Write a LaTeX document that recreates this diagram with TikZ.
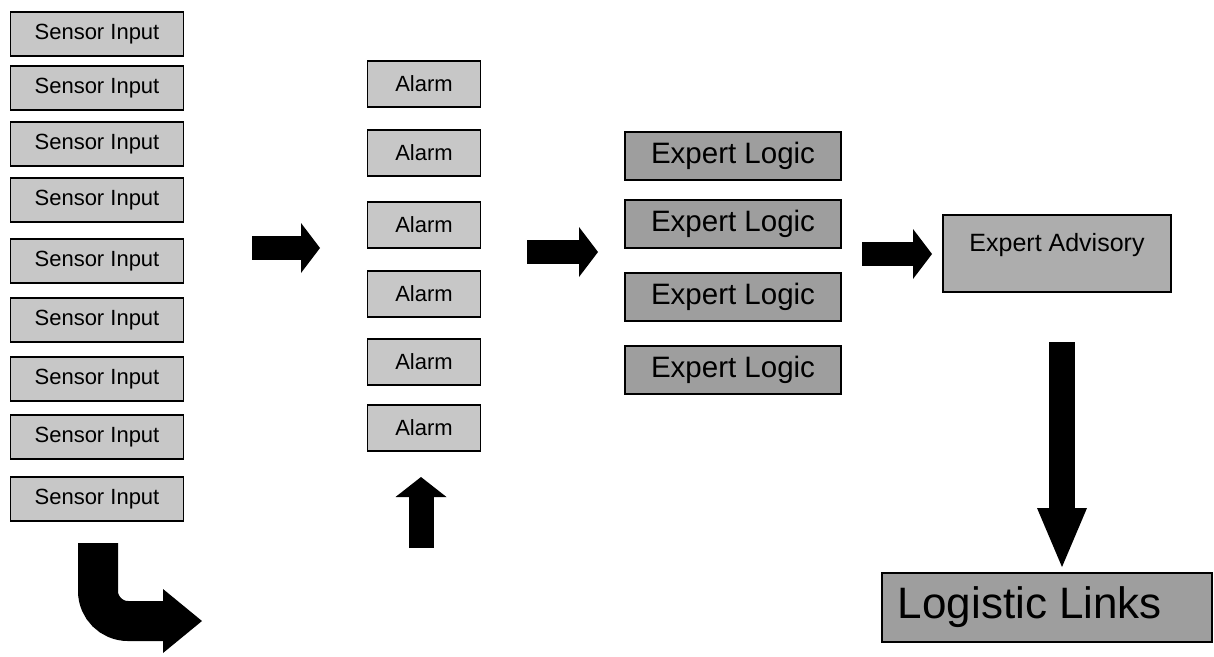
\documentclass[tikz,border=0pt]{standalone}
\usepackage{fontspec}
\setmainfont{Liberation Sans}
\usetikzlibrary{arrows.meta}

\begin{document}
\begin{tikzpicture}[x=1pt,y=-1pt,
    box/.style={draw,line width=1.6pt,inner sep=0pt,fill=black!22},
    sensorbox/.style={box,minimum width=173pt,minimum height=44pt,font=\fontsize{22}{24}\selectfont},
    alarmbox/.style={box,minimum width=113pt,minimum height=46pt,font=\fontsize{22}{24}\selectfont},
    logicbox/.style={box,fill=black!38,minimum width=216pt,minimum height=48pt,font=\fontsize{29.5}{32}\selectfont},
    bigarrow/.style={line width=24pt,-{Triangle[length=19pt,width=50pt,line width=0pt]}}]
      \useasboundingbox (0,0) rectangle (1214,656);
      % sensor column
      \foreach \y [count=\i] in {34,88,144,200,261,320,379,437,499}
        \node[sensorbox] (s\i) at (97,\y) {Sensor Input};
      % alarms
      \foreach \y [count=\i] in {84,153,225,294,362,428}
        \node[alarmbox] (al\i) at (424,\y) {Alarm};
      % expert logic
      \foreach \y [count=\i] in {156,224,297,370}
        \node[logicbox] (lg\i) at (733,\y) {Expert Logic};
      \node[box,fill=black!32,minimum width=228pt,minimum height=77pt,text height=14pt,text depth=19pt,
            font=\fontsize{25}{27}\selectfont] (adv) at (1057,253.5) {Expert Advisory};
      \node[box,fill=black!38,minimum width=330pt,minimum height=69pt,
            font=\fontsize{44}{48}\selectfont] (links) at (1047,607.5) {Logistic Links\kern34pt};
      % block arrows
      \coordinate (a1s) at (252,248);
      \coordinate (a1e) at (320,248);
      \coordinate (a2s) at (527,252);
      \coordinate (a2e) at (598,252);
      \coordinate (a3s) at (862,254);
      \coordinate (a3e) at (932,254);
      \coordinate (ups) at (421,548);
      \coordinate (upe) at (421,477);
      \coordinate (dns) at (1062,342);
      \coordinate (dne) at (1062,567);
      \coordinate (cvs) at (98,543);
      \coordinate (cve) at (202,621);
      \draw[bigarrow] (a1s) -- (a1e);
      \draw[bigarrow] (a2s) -- (a2e);
      \draw[bigarrow] (a3s) -- (a3e);
      \draw[line width=25pt,-{Triangle[length=20pt,width=51pt,line width=0pt]}] (ups) -- (upe);
      \draw[line width=26pt,-{Triangle[length=59pt,width=50pt,line width=0pt]}] (dns) -- (dne);
      \draw[line width=40pt,rounded corners=30pt,-{Triangle[length=39pt,width=64pt,line width=0pt]}] (cvs) |- (cve);
\end{tikzpicture}
\end{document}
